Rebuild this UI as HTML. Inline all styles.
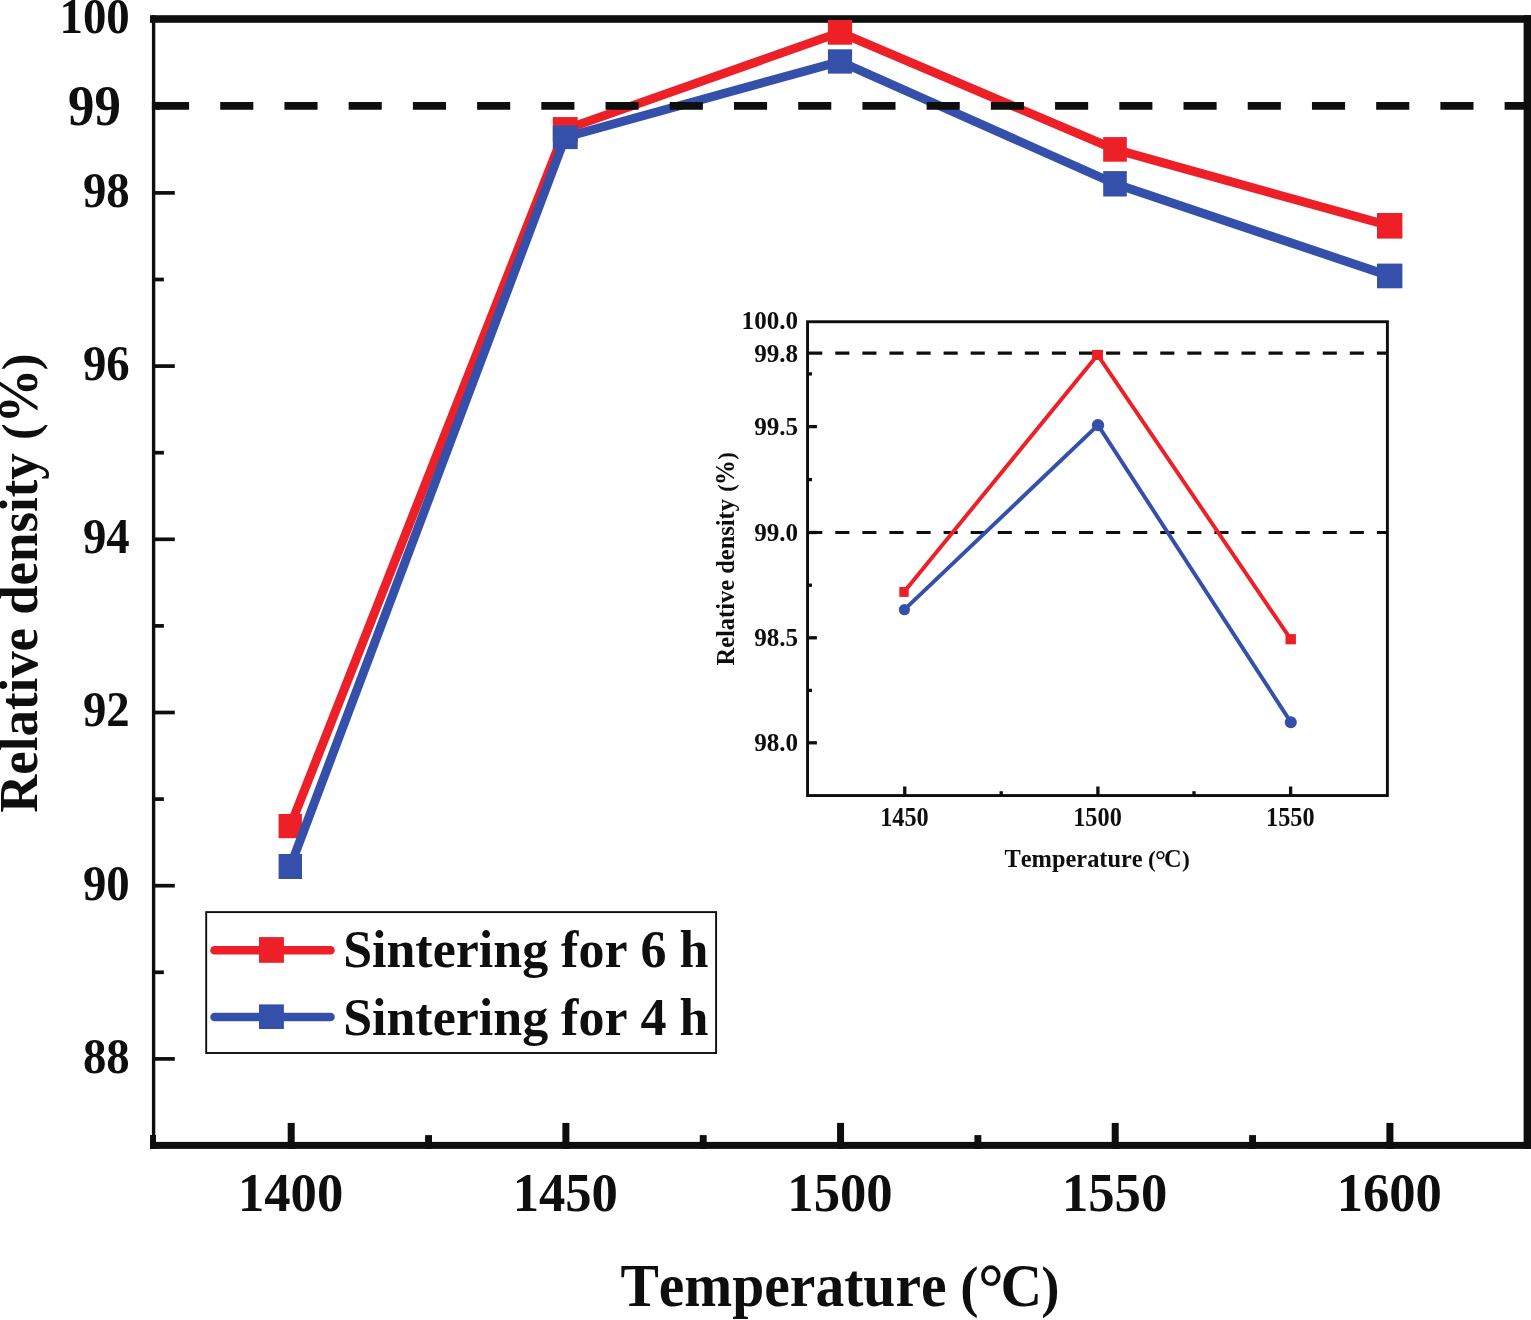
<!DOCTYPE html>
<html lang="en"><head><meta charset="utf-8"><title>Relative density vs sintering temperature</title>
<style>
html,body{margin:0;padding:0;background:#fff;}
body{width:1531px;height:1320px;overflow:hidden;}
svg{display:block;}
text{font-family:"Liberation Serif","DejaVu Serif",serif;font-weight:bold;fill:#0e0e0e;font-kerning:none;font-variant-ligatures:none;}
</style></head><body>
<svg width="1531" height="1320" viewBox="0 0 1531 1320">
<rect x="0" y="0" width="1531" height="1320" fill="#ffffff"/>
<g id="main-frame">
<rect x="150.05" y="15.20" width="1380.95" height="7.60" fill="#0e0e0e"/>
<rect x="150.05" y="1141.90" width="1380.95" height="7.00" fill="#0e0e0e"/>
<rect x="151.90" y="15.20" width="3.40" height="1133.70" fill="#0e0e0e"/>
<rect x="1523.60" y="15.20" width="7.40" height="1133.70" fill="#0e0e0e"/>
<rect x="150.05" y="1135.00" width="5.95" height="13.90" fill="#0e0e0e"/>
</g>
<g id="main-yticks">
<rect x="153.50" y="191.05" width="21.30" height="3.70" fill="#0e0e0e"/>
<rect x="153.50" y="364.25" width="21.30" height="3.70" fill="#0e0e0e"/>
<rect x="153.50" y="537.45" width="21.30" height="3.70" fill="#0e0e0e"/>
<rect x="153.50" y="710.65" width="21.30" height="3.70" fill="#0e0e0e"/>
<rect x="153.50" y="883.85" width="21.30" height="3.70" fill="#0e0e0e"/>
<rect x="153.50" y="1057.05" width="21.30" height="3.70" fill="#0e0e0e"/>
<rect x="153.50" y="277.65" width="10.40" height="3.70" fill="#0e0e0e"/>
<rect x="153.50" y="450.85" width="10.40" height="3.70" fill="#0e0e0e"/>
<rect x="153.50" y="624.05" width="10.40" height="3.70" fill="#0e0e0e"/>
<rect x="153.50" y="797.25" width="10.40" height="3.70" fill="#0e0e0e"/>
<rect x="153.50" y="970.45" width="10.40" height="3.70" fill="#0e0e0e"/>
</g>
<g id="main-xticks">
<rect x="287.70" y="1122.90" width="7.00" height="26.00" fill="#0e0e0e"/>
<rect x="562.38" y="1122.90" width="7.00" height="26.00" fill="#0e0e0e"/>
<rect x="837.05" y="1122.90" width="7.00" height="26.00" fill="#0e0e0e"/>
<rect x="1111.72" y="1122.90" width="7.00" height="26.00" fill="#0e0e0e"/>
<rect x="1386.40" y="1122.90" width="7.00" height="26.00" fill="#0e0e0e"/>
<rect x="425.09" y="1135.10" width="6.90" height="13.80" fill="#0e0e0e"/>
<rect x="699.76" y="1135.10" width="6.90" height="13.80" fill="#0e0e0e"/>
<rect x="974.44" y="1135.10" width="6.90" height="13.80" fill="#0e0e0e"/>
<rect x="1249.11" y="1135.10" width="6.90" height="13.80" fill="#0e0e0e"/>
</g>
<g id="main-ylabels">
<text transform="translate(129.70 32.90) scale(0.9180 1)" font-size="51.00" text-anchor="end">100</text>
<text transform="translate(129.70 206.70) scale(0.9180 1)" font-size="51.00" text-anchor="end">98</text>
<text transform="translate(129.70 379.90) scale(0.9180 1)" font-size="51.00" text-anchor="end">96</text>
<text transform="translate(129.70 553.10) scale(0.9180 1)" font-size="51.00" text-anchor="end">94</text>
<text transform="translate(129.70 726.30) scale(0.9180 1)" font-size="51.00" text-anchor="end">92</text>
<text transform="translate(129.70 899.50) scale(0.9180 1)" font-size="51.00" text-anchor="end">90</text>
<text transform="translate(129.70 1072.70) scale(0.9180 1)" font-size="51.00" text-anchor="end">88</text>
<text transform="translate(68.10 124.80) scale(0.9310 1)" font-size="56.80" text-anchor="start">99</text>
</g>
<g id="main-xlabels">
<text transform="translate(290.60 1211.05) scale(0.9660 1)" font-size="54.50" text-anchor="middle">1400</text>
<text transform="translate(565.27 1211.05) scale(0.9660 1)" font-size="54.50" text-anchor="middle">1450</text>
<text transform="translate(839.95 1211.05) scale(0.9660 1)" font-size="54.50" text-anchor="middle">1500</text>
<text transform="translate(1114.62 1211.05) scale(0.9660 1)" font-size="54.50" text-anchor="middle">1550</text>
<text transform="translate(1389.30 1211.05) scale(0.9660 1)" font-size="54.50" text-anchor="middle">1600</text>
</g>
<text id="xtitle" transform="translate(620.40 1305.90) scale(0.9531 1)" font-size="60.40">Temperature <tspan x="356.62" font-size="57.50">(</tspan><tspan x="375.12" font-size="67.50" dy="4.70">°</tspan><tspan x="398.80" dy="-4.70">C</tspan><tspan x="441.44" font-size="57.50">)</tspan></text>
<text id="ytitle" transform="translate(37.00 812.80) rotate(-90) scale(0.9787 1)" font-size="54.00">Relative density <tspan x="380.93" font-size="51.00">(</tspan><tspan x="397.76" font-size="56.00">%</tspan><tspan x="452.24" font-size="51.00">)</tspan></text>
<g id="series-6h">
<polyline points="290.25,826.10 565.25,129.35 840.00,32.35 1115.00,149.40 1389.70,225.80" fill="none" stroke="#ed2027" stroke-width="8.9" stroke-linejoin="round" stroke-linecap="butt"/>
<rect x="278.60" y="814.00" width="23.30" height="24.20" fill="#ed2027"/>
<rect x="552.80" y="117.10" width="24.90" height="24.50" fill="#ed2027"/>
<rect x="827.90" y="20.00" width="24.20" height="24.70" fill="#ed2027"/>
<rect x="1103.20" y="137.10" width="23.60" height="24.60" fill="#ed2027"/>
<rect x="1377.00" y="213.00" width="25.40" height="25.60" fill="#ed2027"/>
</g>
<g id="series-4h">
<polyline points="290.30,866.50 565.25,137.30 840.00,61.45 1115.00,183.80 1389.70,275.95" fill="none" stroke="#3450aa" stroke-width="8.9" stroke-linejoin="round" stroke-linecap="butt"/>
<rect x="278.60" y="854.00" width="23.40" height="25.00" fill="#3450aa"/>
<rect x="552.80" y="125.50" width="24.90" height="23.60" fill="#3450aa"/>
<rect x="827.90" y="49.30" width="24.20" height="24.30" fill="#3450aa"/>
<rect x="1103.20" y="171.10" width="23.60" height="25.40" fill="#3450aa"/>
<rect x="1377.00" y="263.60" width="25.40" height="24.70" fill="#3450aa"/>
</g>
<line id="ref99" x1="156" y1="105.8" x2="1531" y2="105.8" stroke="#0e0e0e" stroke-width="7.8" stroke-dasharray="33.1 31.12"/>
<rect x="151.90" y="101.90" width="8.10" height="7.80" fill="#0e0e0e"/>
<g id="legend">
<rect x="206.2" y="912.1" width="509.9" height="140.9" fill="#ffffff" stroke="#0e0e0e" stroke-width="1.9"/>
<line x1="214.5" y1="950.20" x2="330.5" y2="950.20" stroke="#ed2027" stroke-width="8.5" stroke-linecap="round"/>
<rect x="259.00" y="937.10" width="24.90" height="25.70" fill="#ed2027"/>
<text transform="translate(343.13 967.40) scale(0.9956 1)" font-size="52.20">Sintering for 6 h</text>
<line x1="214.5" y1="1016.90" x2="330.5" y2="1016.90" stroke="#3450aa" stroke-width="8.5" stroke-linecap="round"/>
<rect x="259.00" y="1004.40" width="24.90" height="24.60" fill="#3450aa"/>
<text transform="translate(343.13 1034.90) scale(0.9956 1)" font-size="52.20">Sintering for 4 h</text>
</g>
<g id="inset">
<rect x="807.55" y="321.75" width="579.85" height="473.80" fill="none" stroke="#0e0e0e" stroke-width="2.9"/>
<g stroke="#0e0e0e" stroke-width="3.3">
<line x1="807.55" y1="426.60" x2="816.90" y2="426.60"/>
<line x1="807.55" y1="532.50" x2="816.90" y2="532.50"/>
<line x1="807.55" y1="637.80" x2="816.90" y2="637.80"/>
<line x1="807.55" y1="742.80" x2="816.90" y2="742.80"/>
<line x1="807.55" y1="373.90" x2="812.00" y2="373.90"/>
<line x1="807.55" y1="479.60" x2="812.00" y2="479.60"/>
<line x1="807.55" y1="585.20" x2="812.00" y2="585.20"/>
<line x1="807.55" y1="690.40" x2="812.00" y2="690.40"/>
</g>
<g stroke="#0e0e0e" stroke-width="3.3">
<line x1="904.75" y1="786.50" x2="904.75" y2="795.55"/>
<line x1="1097.90" y1="786.50" x2="1097.90" y2="795.55"/>
<line x1="1290.60" y1="786.50" x2="1290.60" y2="795.55"/>
<line x1="1001.20" y1="791.20" x2="1001.20" y2="795.55"/>
<line x1="1194.00" y1="791.20" x2="1194.00" y2="795.55"/>
</g>
<line x1="808.20" y1="353.10" x2="1387.40" y2="353.10" stroke="#0e0e0e" stroke-width="3.1" stroke-dasharray="14.1 12.98"/>
<line x1="808.20" y1="532.50" x2="1387.40" y2="532.50" stroke="#0e0e0e" stroke-width="3.1" stroke-dasharray="14.1 12.98"/>
<text transform="translate(798.10 328.70) scale(0.9850 1)" font-size="25.50" text-anchor="end">100.0</text>
<text transform="translate(798.10 362.10) scale(0.9850 1)" font-size="25.50" text-anchor="end">99.8</text>
<text transform="translate(798.10 434.90) scale(0.9850 1)" font-size="25.50" text-anchor="end">99.5</text>
<text transform="translate(798.10 540.60) scale(0.9850 1)" font-size="25.50" text-anchor="end">99.0</text>
<text transform="translate(798.10 646.00) scale(0.9850 1)" font-size="25.50" text-anchor="end">98.5</text>
<text transform="translate(798.10 750.90) scale(0.9850 1)" font-size="25.50" text-anchor="end">98.0</text>
<text transform="translate(904.45 825.50) scale(0.9200 1)" font-size="26.40" text-anchor="middle">1450</text>
<text transform="translate(1097.50 825.50) scale(0.9200 1)" font-size="26.40" text-anchor="middle">1500</text>
<text transform="translate(1290.30 825.50) scale(0.9200 1)" font-size="26.40" text-anchor="middle">1550</text>
<text id="in-xtitle" transform="translate(1004.52 866.80) scale(0.9760 1)" font-size="25.00">Temperature <tspan x="146.98" font-size="24.10">(</tspan><tspan x="154.18" font-size="28.00" dy="1.90">°</tspan><tspan x="163.41" dy="-1.90">C</tspan><tspan x="181.79" font-size="24.10">)</tspan></text>
<text id="in-ytitle" transform="translate(734.00 665.52) rotate(-90) scale(0.9414 1)" font-size="26.00">Relative density <tspan x="184.54" font-size="24.00">(</tspan><tspan x="191.70" font-size="26.40">%</tspan><tspan x="218.60" font-size="24.00">)</tspan></text>
<polyline points="904.00,591.95 1097.55,354.95 1290.70,639.20" fill="none" stroke="#ed2027" stroke-width="3.9" stroke-linejoin="round"/>
<rect x="899.30" y="587.00" width="9.40" height="9.90" fill="#ed2027"/>
<rect x="1092.10" y="349.90" width="10.90" height="10.10" fill="#ed2027"/>
<rect x="1285.50" y="634.10" width="10.40" height="10.20" fill="#ed2027"/>
<polyline points="904.40,609.70 1098.00,425.15 1290.80,722.15" fill="none" stroke="#3450aa" stroke-width="3.9" stroke-linejoin="round"/>
<circle cx="904.40" cy="609.70" r="5.60" fill="#3450aa"/>
<circle cx="1098.00" cy="425.15" r="6.15" fill="#3450aa"/>
<circle cx="1290.80" cy="722.15" r="6.00" fill="#3450aa"/>
</g>
</svg>
</body></html>
